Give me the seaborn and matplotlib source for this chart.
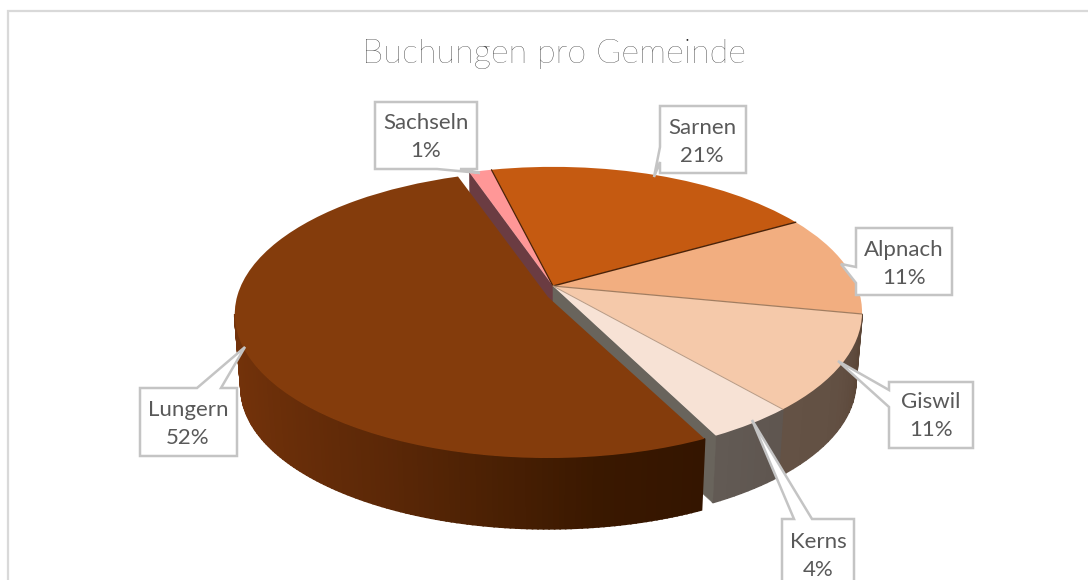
import numpy as np
import matplotlib
matplotlib.use('Agg')
import matplotlib.pyplot as plt
from matplotlib.transforms import Transform
import seaborn as sns

# Buchungen pro Gemeinde, clockwise from Sachseln
gemeinden = ['Sachseln', 'Sarnen', 'Alpnach', 'Giswil', 'Kerns', 'Lungern']
anteile = [1.4, 20.6, 11.3, 10.6, 3.9, 52.2]
farben = ['#ff9797', '#c55a11', '#f2ae80', '#f5c9aa', '#f7e2d5', '#843c0c']

sns.set_theme(style='white')
plt.rcParams['font.family'] = ['Lato', 'DejaVu Sans']


class DiscView(Transform):
    # tilted view of the unit disc, the far side looks smaller than the near side
    input_dims = 2
    output_dims = 2

    def __init__(self, x0, y0, rx, ry, tilt, scale=1.0, drop=0.0):
        super().__init__()
        self.x0, self.y0, self.rx, self.ry = x0, y0, rx, ry
        self.tilt, self.scale, self.drop = tilt, scale, drop

    def transform_non_affine(self, values):
        values = np.asarray(values, dtype=float)
        w = 1 + self.tilt * values[:, 1]
        x = self.x0 + self.scale * self.rx * values[:, 0] / w
        y = self.y0 + self.drop - self.scale * self.ry * values[:, 1] / w
        return np.column_stack([x, y])

    def bottom(self, drop):
        return DiscView(self.x0, self.y0, self.rx, self.ry, self.tilt, 0.98, drop)


def ring(theta):
    rad = np.radians(theta)
    return np.column_stack([np.cos(rad), np.sin(rad)])


def draw_wall(ax, view, drop, t1, t2, shades, zorder):
    # outer wall, one small quad per shade
    low = view.bottom(drop)
    steps = np.linspace(t1, t2, len(shades) + 1)
    for i, shade in enumerate(shades):
        arc = ring(np.linspace(steps[i], steps[i + 1], 6))
        pts = np.vstack([view.transform_non_affine(arc), low.transform_non_affine(arc)[::-1]])
        ax.fill(pts[:, 0], pts[:, 1], color=shade, lw=1.2, zorder=zorder)


def draw_cut(ax, view, drop, theta, shade, zorder):
    # radial wall from the middle of the pie to the rim
    low = view.bottom(drop)
    rim = ring(np.array([theta]))
    mid = np.array([[0.0, 0.0]])
    pts = np.vstack([view.transform_non_affine(mid), view.transform_non_affine(rim),
                     low.transform_non_affine(rim), low.transform_non_affine(mid)])
    ax.fill(pts[:, 0], pts[:, 1], color=shade, lw=0.4, zorder=zorder)


fig = plt.figure(figsize=(10.88, 5.8), dpi=100)
ax = fig.add_axes([0, 0, 1, 1])
wedges, _ = ax.pie(anteile, colors=farben, startangle=108.8, counterclock=False,
                   radius=1, wedgeprops={'linewidth': 0})
ax.set_aspect('auto')
ax.set_xlim(0, 1088)
ax.set_ylim(580, 0)

main_view = DiscView(553, 286, 304, 140.6, 0.18)
lungern_view = DiscView(548, 297, 311, 141.7, 0.12)
tiefe = 70
tiefe_lungern = 74

for wedge, name in zip(wedges, gemeinden):
    view = lungern_view if name == 'Lungern' else main_view
    wedge.set_transform(view + ax.transData)
    wedge.set_zorder(5 if name == 'Lungern' else 2)

by_name = dict(zip(gemeinden, wedges))

# walls of the pieces that stay in the pie
w = by_name['Giswil']
draw_wall(ax, main_view, tiefe, w.theta1, w.theta2,
          sns.blend_palette(['#645245', '#625043', '#5b4637'], 20), 1)
w = by_name['Kerns']
draw_wall(ax, main_view, tiefe, w.theta1, w.theta2,
          sns.blend_palette(['#625a54', '#5f5650'], 10), 1)

draw_cut(ax, main_view, tiefe, by_name['Sachseln'].theta2, '#6b3c42', 1.2)
draw_cut(ax, main_view, tiefe, by_name['Kerns'].theta1, '#69645c', 1.2)

# Lungern wall, only the front part shows, it gets darker to the right
w = by_name['Lungern']
left_edge = -180 + np.degrees(np.arcsin(lungern_view.tilt))
draw_wall(ax, lungern_view, tiefe_lungern, left_edge, w.theta2,
          sns.blend_palette(['#74330b', '#70310a', '#672d09', '#5c2807', '#4c2104',
                             '#3a1800', '#341500'], 120), 4)

# thin lines between the pieces
for name, shade, lw in [('Sachseln', '#4a2208', 0.9), ('Sarnen', '#4a2208', 1.0),
                        ('Alpnach', '#a27d60', 0.9), ('Giswil', '#b79a84', 0.7)]:
    t = by_name[name].theta1
    pts = main_view.transform_non_affine(np.vstack([[0.0, 0.0], ring(np.array([t]))]))
    ax.plot(pts[:, 0], pts[:, 1], color=shade, lw=lw, zorder=3)

# callouts, (box outline with pointer), text centre
callouts = {
    'Sachseln': ([(375, 102), (477, 102), (477, 169), (460, 169), (480, 173), (437, 169), (375, 169)], (426, 137)),
    'Sarnen': ([(660, 106), (746, 106), (746, 173), (660, 173), (660, 162), (654, 177), (660, 147)], (702, 142)),
    'Alpnach': ([(856, 228), (952, 228), (952, 295), (856, 295), (856, 283), (841, 264), (856, 267)], (904, 264)),
    'Giswil': ([(889, 382), (973, 382), (973, 448), (889, 448), (889, 407), (838, 361), (889, 390)], (931, 416)),
    'Kerns': ([(782, 519), (794, 519), (752, 420), (812, 519), (854, 519), (854, 590), (782, 590)], (818, 556)),
    'Lungern': ([(140, 388), (197, 388), (245, 347), (221, 388), (237, 388), (237, 456), (140, 456)], (188, 424)),
}
for name, share in zip(gemeinden, anteile):
    outline, centre = callouts[name]
    xs, ys = zip(*outline)
    ax.fill(xs, ys, facecolor='white', edgecolor='#c4c4c4', lw=1.8, zorder=6, joinstyle='miter')
    ax.text(centre[0], centre[1], f'{name}\n{share:.0f}%', ha='center', va='center',
            fontsize=16, color='#595959', linespacing=1.5, zorder=7)

# chart frame, cut off by the picture on the right and at the bottom
ax.plot([8, 8, 1088], [580, 11, 11], color='#d9d9d9', lw=1.6, zorder=0, solid_joinstyle='miter')

ax.text(554, 54, 'Buchungen pro Gemeinde', ha='center', va='center', fontsize=24.7,
        color='#1a1a1a', fontweight='light', zorder=7)

fig.savefig('out.png', dpi=100, facecolor='white')
